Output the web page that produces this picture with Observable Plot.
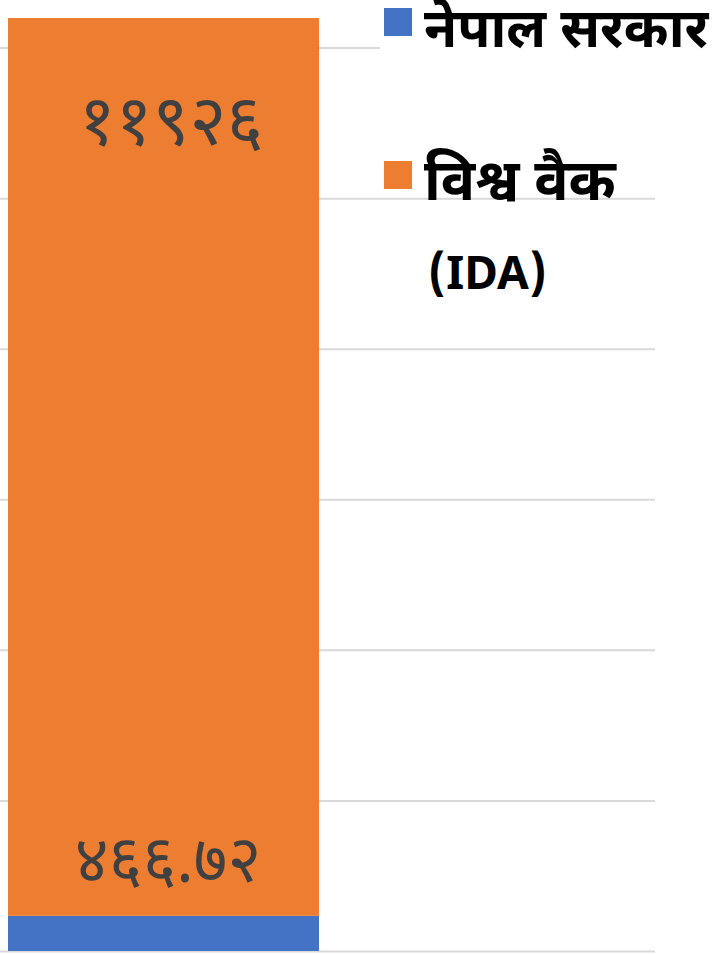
<!DOCTYPE html>
<html><head><meta charset="utf-8">
<script src="https://cdn.jsdelivr.net/npm/d3@7"></script>
<script src="https://cdn.jsdelivr.net/npm/@observablehq/plot@0.6"></script>
<style>
body{margin:0;background:#fff;}
#wrap{position:relative;width:720px;height:954px;overflow:hidden;background:#fff;}
.leg{position:absolute;font-family:"Noto Sans Devanagari","Lohit Devanagari","Noto Sans",sans-serif;color:#000;white-space:nowrap;line-height:1.2;}
.sw{position:absolute;width:28px;height:28px;}
</style></head><body><div id="wrap"></div>
<script>
const series = ["नेपाल सरकार", "विश्व वैक (IDA)"];
const values = [466.72, 11926];
const valueLabels = ["४६६.७२", "११९२६"];
const category = ["कुल"];
const gridTicks = [0, 2000, 4000, 6000, 8000, 10000, 12000];
const colors = ["#4472C4", "#ED7D31"];

const rows = series.map((s, i) => ({cat: category[0], series: s, value: values[i], label: valueLabels[i]}));
const total = d3.sum(values);
const labelFont = {fill: "#404040", fontFamily: "'Noto Sans Devanagari','Lohit Devanagari',sans-serif"};

const chart = Plot.plot({
  width: 720, height: 954,
  marginTop: 18, marginBottom: 3, marginLeft: 0, marginRight: 65,
  x: {type: "band", domain: category, range: [8, 319], padding: 0, axis: null},
  y: {domain: [0, total], axis: null},
  color: {domain: series, range: colors},
  marks: [
    Plot.ruleY(gridTicks, {stroke: "#d9d9d9", strokeWidth: 2}),
    Plot.barY(rows, {x: "cat", y: "value", fill: "series"}),
    Plot.text(rows, Plot.stackY2({x: "cat", y: "value", text: d => d.series === series[1] ? d.label : null, dy: 104, dx: 7, fontSize: 71, ...labelFont})),
    Plot.text(rows, Plot.stackY2({x: "cat", y: "value", text: d => d.series === series[0] ? d.label : null, dy: -55, dx: 4, fontSize: 65, ...labelFont}))
  ]
});
const wrap = document.getElementById("wrap");
wrap.appendChild(chart);

function addLeg(txt, left, top, size) {
  const el = document.createElement("div");
  el.className = "leg";
  el.style.left = left + "px"; el.style.top = top + "px";
  el.style.fontSize = size + "px"; el.style.fontWeight = "700";
  el.textContent = txt;
  wrap.appendChild(el);
  return el;
}
const bg1 = document.createElement("div");
bg1.style.cssText = "position:absolute;left:380px;top:0;width:340px;height:62px;background:#fff;";
wrap.appendChild(bg1);
const sw1 = document.createElement("div"); sw1.className = "sw";
sw1.style.cssText += `left:384px;top:8px;background:${colors[0]};`;
wrap.appendChild(sw1);
const sw2 = document.createElement("div"); sw2.className = "sw";
sw2.style.cssText += `left:384px;top:161px;background:${colors[1]};`;
wrap.appendChild(sw2);
const parts = series[1].split(" (");
addLeg(series[0], 424, 2, 54);
addLeg(parts[0], 424, 152, 57);
addLeg("(" + parts[1], 428, 251, 46);
</script></body></html>
